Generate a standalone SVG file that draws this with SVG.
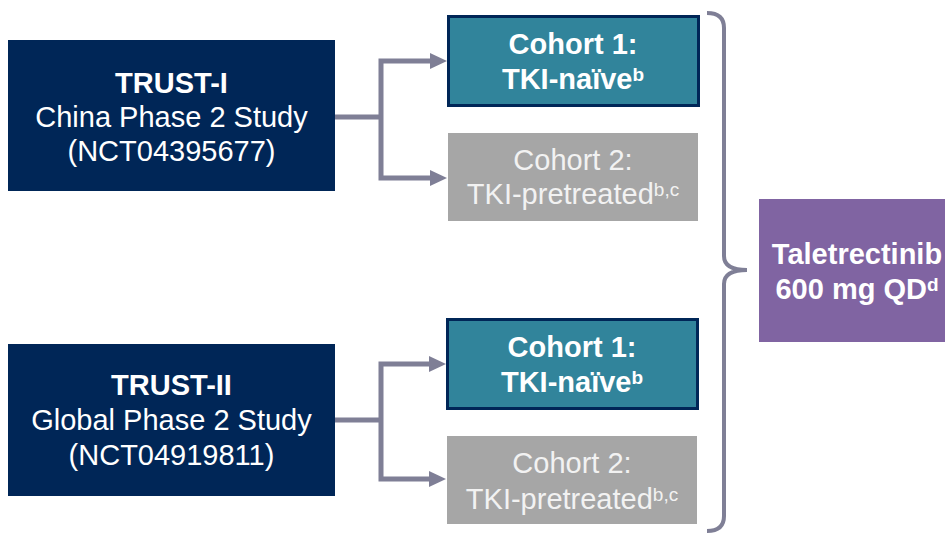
<svg xmlns="http://www.w3.org/2000/svg" width="945" height="533" viewBox="0 0 945 533">
<defs>
<marker id="ah" markerWidth="3.4" markerHeight="3.2" refX="1.4" refY="1.6" orient="auto-start-reverse" markerUnits="strokeWidth">
<path d="M0,0 L3.4,1.6 L0,3.2 Z" fill="#7F7F96"/>
</marker>
<style>
.t{font-family:"Liberation Sans",Arial,sans-serif;text-anchor:middle;fill:#FFFFFF;font-size:29px}
.b{font-weight:bold}
.g{fill:#F2F2F2}
.study{fill:#002657}
.c1{fill:#31849B;stroke:#002657;stroke-width:3}
.c2{fill:#A6A6A6}
.con{fill:none;stroke:#7F7F96;stroke-width:5}
.sup{font-size:19px}
</style>
</defs>
<rect width="945" height="533" fill="#FFFFFF"/>
<g id="connectors">
<path class="con" d="M335,117 H383"/>
<path class="con" d="M437,61 H381 V178 H437" marker-start="url(#ah)" marker-end="url(#ah)"/>
<path class="con" d="M335,420 H383"/>
<path class="con" d="M436,364 H381 V479 H436" marker-start="url(#ah)" marker-end="url(#ah)"/>
<path d="M707,13 Q724,13 724,28 V256 Q724,270 747,270 Q724,270 724,284 V516 Q724,531 707,531" fill="none" stroke="#7F7F96" stroke-width="4"/>
</g>
<g id="trust1">
<rect class="study" x="8" y="40" width="327" height="151"/>
<text class="t b" x="171.5" y="93">TRUST-I</text>
<text class="t" x="171.5" y="127">China Phase 2 Study</text>
<text class="t" x="171.5" y="161">(NCT04395677)</text>
</g>
<g id="trust2">
<rect class="study" x="8" y="344" width="327" height="152"/>
<text class="t b" x="171.5" y="395">TRUST-II</text>
<text class="t" x="171.5" y="430">Global Phase 2 Study</text>
<text class="t" x="171.5" y="465">(NCT04919811)</text>
</g>
<g id="cohort1a">
<rect class="c1" x="448.5" y="16.5" width="250" height="89"/>
<text class="t b" x="573" y="54">Cohort 1:</text>
<text class="t b" x="573" y="89">TKI-naïve<tspan class="sup" dy="-8">b</tspan></text>
</g>
<g id="cohort2a">
<rect class="c2" x="448" y="133" width="250" height="88"/>
<text class="t g" x="573" y="170">Cohort 2:</text>
<text class="t g" x="573" y="204">TKI-pretreated<tspan class="sup" dy="-8">b,c</tspan></text>
</g>
<g id="cohort1b">
<rect class="c1" x="447.5" y="319.5" width="250" height="89"/>
<text class="t b" x="572" y="357">Cohort 1:</text>
<text class="t b" x="572" y="392">TKI-naïve<tspan class="sup" dy="-8">b</tspan></text>
</g>
<g id="cohort2b">
<rect class="c2" x="447" y="436" width="250" height="88"/>
<text class="t g" x="572" y="473">Cohort 2:</text>
<text class="t g" x="572" y="509">TKI-pretreated<tspan class="sup" dy="-8">b,c</tspan></text>
</g>
<g id="drug">
<rect x="759" y="199" width="200" height="143" fill="#8064A2"/>
<text class="t b" x="857" y="264">Taletrectinib</text>
<text class="t b" x="857" y="299">600 mg QD<tspan class="sup" dy="-8">d</tspan></text>
</g>
</svg>
